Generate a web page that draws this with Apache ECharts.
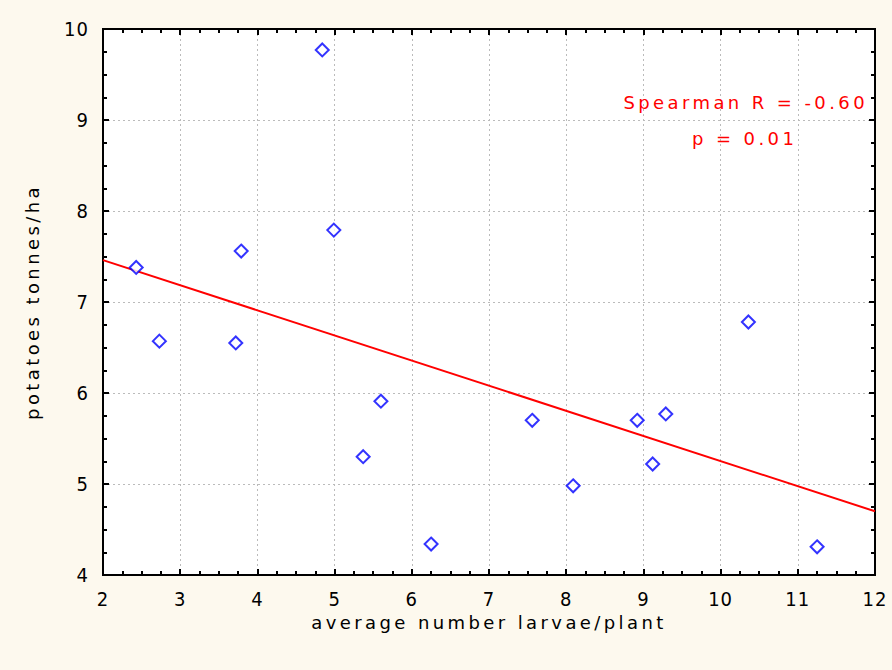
<!DOCTYPE html>
<html style="height: 100%">
<head>
  <meta charset="utf-8" />
  <title>Potatoes vs larvae</title>
  <script src="https://cdn.jsdelivr.net/npm/echarts@6.0.0/dist/echarts.min.js"></script>
  <style>
    /* the original uses a wide, letter-spaced bitmap font */
    #chart text[style*="18px"] { letter-spacing: 3.4px; }
    #chart text[style*="20px"] { letter-spacing: 1px; }
  </style>
</head>
<body style="height: 100%; margin: 0; background: #fdf9ee">
  <div id="chart" style="width: 892px; height: 670px"></div>
  <script>
    // larvae per plant vs yield
    const larvae = [2.43, 2.73, 3.79, 3.72, 4.84, 4.99, 5.37, 5.60, 6.25, 7.56, 8.09, 8.92, 9.29, 9.12, 10.36, 11.25];
    const yieldT = [7.38, 6.57, 7.56, 6.55, 9.77, 7.79, 5.30, 5.91, 4.34, 5.70, 4.98, 5.70, 5.77, 5.22, 6.78, 4.31];
    const fitX = [2, 12];
    const fitY = [7.46, 4.70];
    const statLines = ['Spearman R = -0.60', 'p = 0.01'];

    const font = '"DejaVu Sans Condensed", "DejaVu Sans", sans-serif';
    const wide = '"DejaVu Sans", sans-serif';
    const chart = echarts.init(document.getElementById('chart'), null, { renderer: 'svg' });

    const tickBase = {
      axisLine: { show: true, onZero: false, lineStyle: { color: '#000', width: 2 } },
      axisTick: { show: true, inside: true, length: 6, lineStyle: { color: '#000', width: 2 } },
      minorTick: { show: true, splitNumber: 4, length: 4, lineStyle: { color: '#000', width: 2 } }
    };

    chart.setOption({
      backgroundColor: '#fdf9ee',
      animation: false,
      grid: {
        left: 103, right: 17, top: 29, bottom: 95,
        show: true, backgroundColor: '#fff', borderColor: '#000', borderWidth: 2
      },
      xAxis: [
        Object.assign({
          type: 'value', min: 2, max: 12, interval: 1,
          name: 'average number larvae/plant', nameLocation: 'middle', nameGap: 38,
          nameTextStyle: { color: '#000', fontSize: 18, fontFamily: wide },
          axisLabel: { color: '#000', fontSize: 20, fontFamily: font, margin: 14 },
          splitLine: { show: true, lineStyle: { color: '#bbb', type: [2, 3], width: 1 } }
        }, tickBase),
        Object.assign({
          type: 'value', min: 2, max: 12, interval: 1, position: 'top',
          axisLabel: { show: false }, splitLine: { show: false }
        }, tickBase)
      ],
      yAxis: [
        Object.assign({
          type: 'value', min: 4, max: 10, interval: 1,
          name: 'potatoes tonnes/ha', nameLocation: 'middle', nameGap: 62,
          nameTextStyle: { color: '#000', fontSize: 18, fontFamily: wide },
          axisLabel: { color: '#000', fontSize: 20, fontFamily: font, margin: 14 },
          splitLine: { show: true, lineStyle: { color: '#bbb', type: [2, 3], width: 1 } }
        }, tickBase),
        Object.assign({
          type: 'value', min: 4, max: 10, interval: 1, position: 'right',
          axisLabel: { show: false }, splitLine: { show: false }
        }, tickBase)
      ],
      series: [
        {
          type: 'line',
          data: fitX.map((x, i) => [x, fitY[i]]),
          showSymbol: false,
          lineStyle: { color: '#ff0000', width: 2 },
          z: 3
        },
        {
          type: 'scatter',
          data: larvae.map((x, i) => [x, yieldT[i]]),
          symbol: 'diamond',
          symbolSize: 13,
          itemStyle: { color: '#fff', borderColor: '#0000ff', borderWidth: 2 },
          z: 4
        }
      ],
      graphic: [
        {
          type: 'text', z: 10,
          style: { x: 868, y: 102, text: statLines[0], fill: '#ff0000', font: '18px ' + wide,
                   textAlign: 'right', textVerticalAlign: 'middle' }
        },
        {
          type: 'text', z: 10,
          style: { x: 692, y: 138, text: statLines[1], fill: '#ff0000', font: '18px ' + wide,
                   textAlign: 'left', textVerticalAlign: 'middle' }
        }
      ]
    });
  </script>
</body>
</html>
